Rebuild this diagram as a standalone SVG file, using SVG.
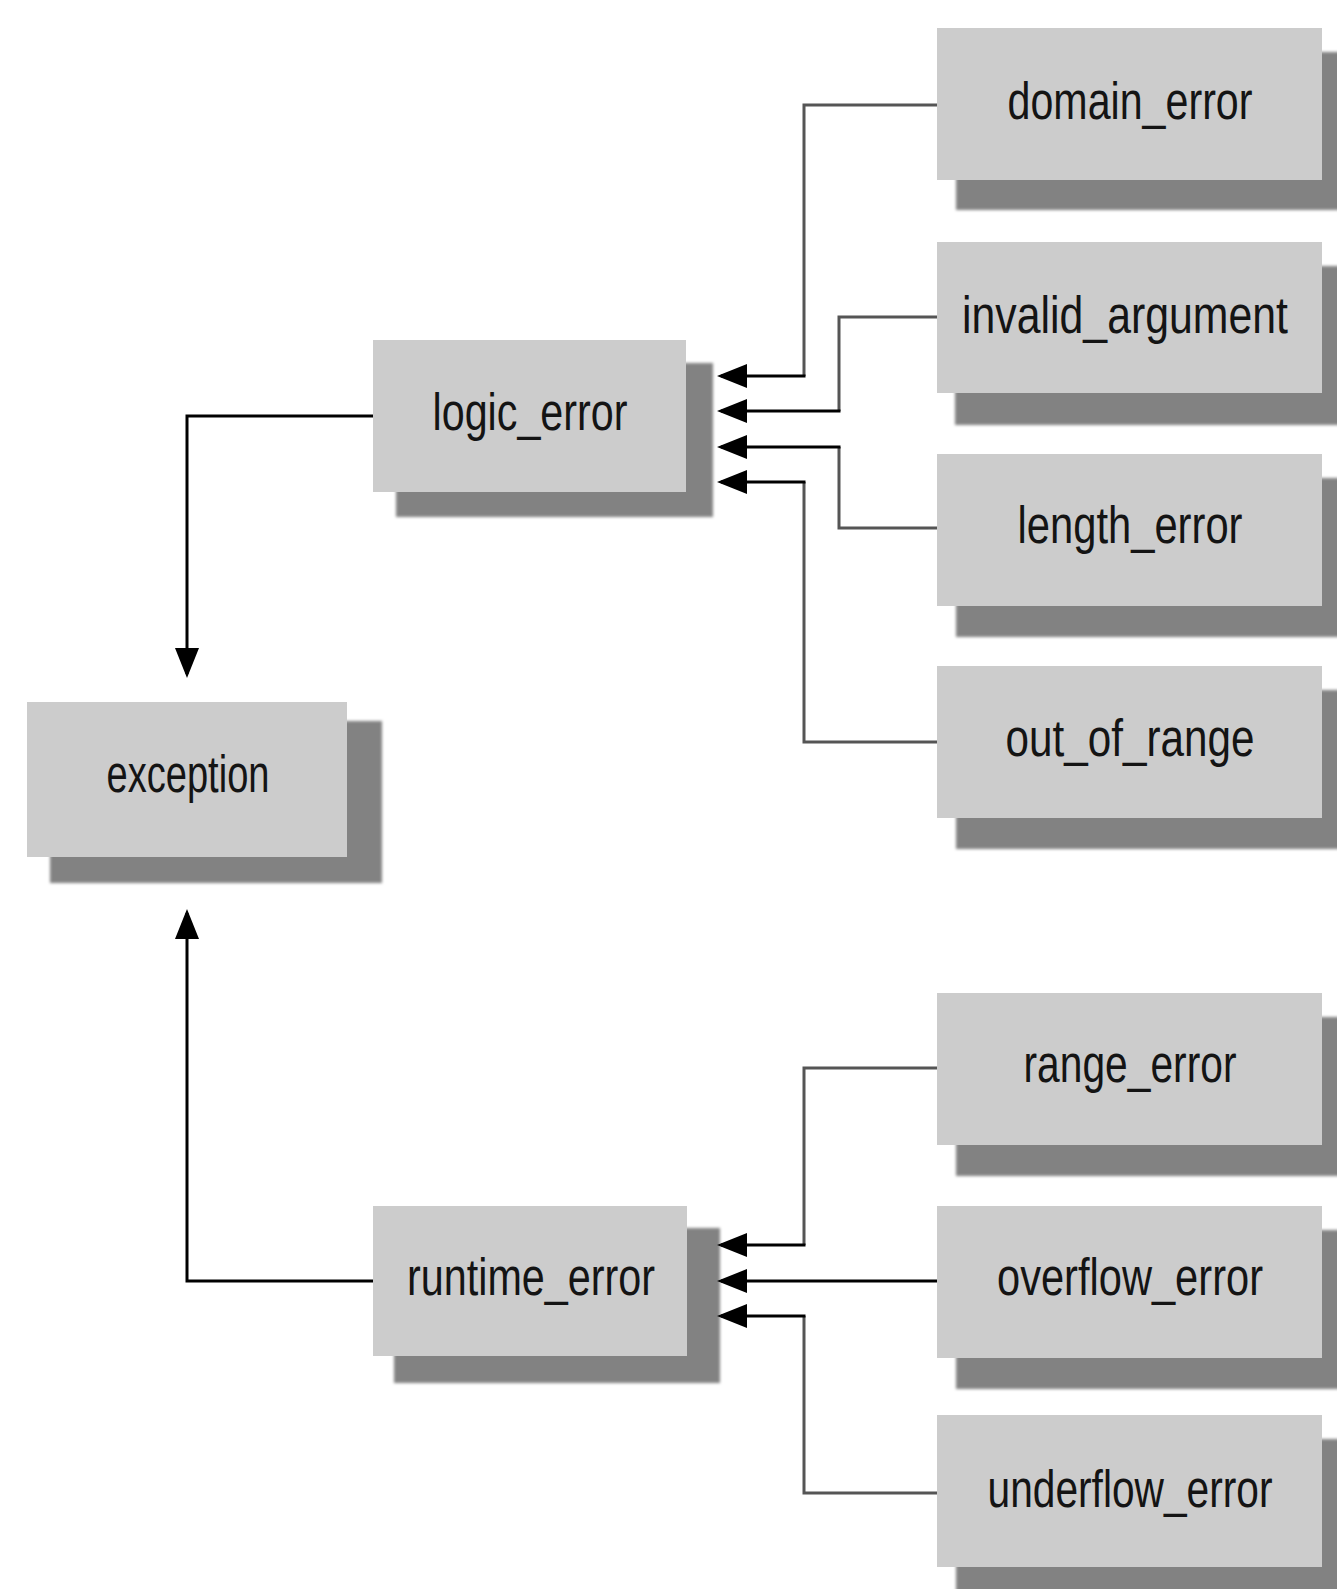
<svg xmlns="http://www.w3.org/2000/svg" width="1337" height="1589" viewBox="0 0 1337 1589">
<style>
.box{fill:#cccccc;}
.shadow{fill:#828282;filter:url(#soft);}
.lbl{font-family:"Liberation Sans Narrow","Liberation Sans",Arial,sans-serif;font-size:51px;fill:#141414;text-anchor:middle;}
.gray{fill:none;stroke:#555555;stroke-width:3;}
.blk{fill:none;stroke:#000000;stroke-width:3;}
</style>
<defs>
<filter id="soft" x="-5%" y="-5%" width="110%" height="110%"><feGaussianBlur stdDeviation="1.5"/></filter>
<marker id="arr" viewBox="0 0 30 24" refX="26" refY="12" markerWidth="30" markerHeight="24" markerUnits="userSpaceOnUse" orient="auto">
<path d="M0,0 L30,12 L0,24 Z" fill="#000"/>
</marker>
</defs>
<rect width="1337" height="1589" fill="#ffffff"/>

<g id="exception">
<rect class="shadow" x="50" y="721" width="332" height="162"/>
<rect class="box" x="27" y="702" width="320" height="155"/>
<text class="lbl" x="188" y="792" textLength="163" lengthAdjust="spacingAndGlyphs">exception</text>
</g>

<g id="logic_error">
<rect class="shadow" x="396" y="363" width="317" height="154"/>
<rect class="box" x="373" y="340" width="313" height="152"/>
<text class="lbl" x="530" y="430" textLength="195" lengthAdjust="spacingAndGlyphs">logic_error</text>
</g>

<g id="runtime_error">
<rect class="shadow" x="394" y="1228" width="326" height="155"/>
<rect class="box" x="373" y="1206" width="314" height="150"/>
<text class="lbl" x="531" y="1295" textLength="248" lengthAdjust="spacingAndGlyphs">runtime_error</text>
</g>

<g id="domain_error">
<rect class="shadow" x="956" y="52" width="400" height="158"/>
<rect class="box" x="937" y="28" width="385" height="152"/>
<text class="lbl" x="1130" y="119" textLength="245" lengthAdjust="spacingAndGlyphs">domain_error</text>
</g>

<g id="invalid_argument">
<rect class="shadow" x="955" y="266" width="400" height="159"/>
<rect class="box" x="937" y="242" width="385" height="151"/>
<text class="lbl" x="1125" y="333" textLength="326" lengthAdjust="spacingAndGlyphs">invalid_argument</text>
</g>

<g id="length_error">
<rect class="shadow" x="956" y="478" width="400" height="159"/>
<rect class="box" x="937" y="454" width="385" height="152"/>
<text class="lbl" x="1130" y="543" textLength="225" lengthAdjust="spacingAndGlyphs">length_error</text>
</g>

<g id="out_of_range">
<rect class="shadow" x="956" y="690" width="400" height="159"/>
<rect class="box" x="937" y="666" width="385" height="152"/>
<text class="lbl" x="1130" y="756" textLength="249" lengthAdjust="spacingAndGlyphs">out_of_range</text>
</g>

<g id="range_error">
<rect class="shadow" x="956" y="1017" width="400" height="159"/>
<rect class="box" x="937" y="993" width="385" height="152"/>
<text class="lbl" x="1130" y="1082" textLength="213" lengthAdjust="spacingAndGlyphs">range_error</text>
</g>

<g id="overflow_error">
<rect class="shadow" x="956" y="1230" width="400" height="159"/>
<rect class="box" x="937" y="1206" width="385" height="152"/>
<text class="lbl" x="1130" y="1295" textLength="266" lengthAdjust="spacingAndGlyphs">overflow_error</text>
</g>

<g id="underflow_error">
<rect class="shadow" x="956" y="1439" width="400" height="159"/>
<rect class="box" x="937" y="1415" width="385" height="152"/>
<text class="lbl" x="1130" y="1507" textLength="285" lengthAdjust="spacingAndGlyphs">underflow_error</text>
</g>

<g id="connectors">
<path class="blk" d="M373,416 H187 V674" marker-end="url(#arr)"/>
<path class="blk" d="M373,1281 H187 V913" marker-end="url(#arr)"/>

<path class="gray" d="M937,105 H804 V376"/>
<path class="blk" d="M805.5,376 H721" marker-end="url(#arr)"/>
<path class="gray" d="M937,317 H839 V411"/>
<path class="blk" d="M840.5,411 H721" marker-end="url(#arr)"/>
<path class="gray" d="M937,528 H839 V447"/>
<path class="blk" d="M840.5,447 H721" marker-end="url(#arr)"/>
<path class="gray" d="M937,742 H804 V482"/>
<path class="blk" d="M805.5,482 H721" marker-end="url(#arr)"/>

<path class="gray" d="M937,1068 H804 V1245"/>
<path class="blk" d="M805.5,1245 H721" marker-end="url(#arr)"/>
<path class="blk" d="M937,1281 H721" marker-end="url(#arr)"/>
<path class="gray" d="M937,1493 H804 V1316"/>
<path class="blk" d="M805.5,1316 H721" marker-end="url(#arr)"/>
</g>
</svg>
